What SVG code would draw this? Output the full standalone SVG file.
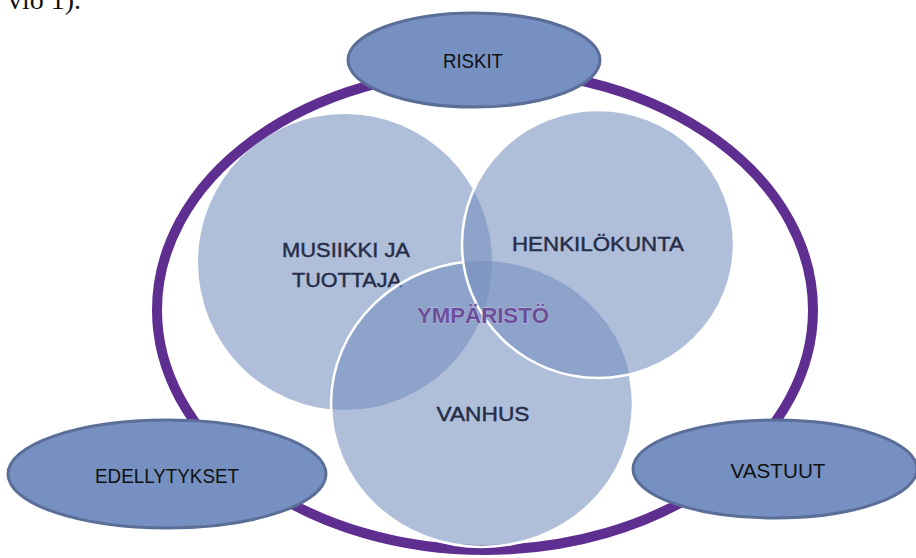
<svg xmlns="http://www.w3.org/2000/svg" width="916" height="558" viewBox="0 0 916 558">
  <style>
    .set { fill: #758fbd; fill-opacity: 0.58; stroke: none; }
    .edge { fill: none; stroke: #ffffff; stroke-width: 2.5; }
    .lbl { font-family: "Liberation Sans", Arial, sans-serif; font-size: 21px; fill: #252d48; stroke: #252d48; stroke-width: 0.45; text-anchor: middle; }
    .sat { fill: #7590c1; stroke: #5a6e98; stroke-width: 3; }
    .satlbl { font-family: "Liberation Sans", Arial, sans-serif; font-size: 21px; fill: #111111; text-anchor: middle; }
    .env { font-family: "Liberation Sans", Arial, sans-serif; font-size: 22px; font-weight: bold; fill: #6a4f9c; stroke: #c9bfe0; stroke-width: 0.8; paint-order: stroke; text-anchor: middle; }
  </style>
  <defs>
    <mask id="outsideRight" maskUnits="userSpaceOnUse" x="0" y="0" width="916" height="558">
      <rect x="0" y="0" width="916" height="558" fill="#ffffff"/>
      <ellipse cx="598" cy="244" rx="136" ry="134" fill="#000000"/>
    </mask>
  </defs>
  <rect x="0" y="0" width="916" height="558" fill="#ffffff"/>

  <text x="8" y="9" font-family="'Liberation Serif', 'Times New Roman', serif" font-size="28" fill="#111111">vio 1).</text>

  <g id="connectors">
    <ellipse id="ring" cx="485" cy="310" rx="328" ry="240" fill="none" stroke="#5f2e91" stroke-width="10"/>
  </g>

  <g id="musiikki">
    <ellipse class="set" cx="345" cy="262" rx="147" ry="148"/>
    <text class="lbl" x="346" y="257" textLength="128" lengthAdjust="spacingAndGlyphs">MUSIIKKI JA</text>
    <text class="lbl" x="347" y="287" textLength="110" lengthAdjust="spacingAndGlyphs">TUOTTAJA</text>
  </g>

  <g id="vanhus">
    <ellipse class="set" cx="482" cy="404" rx="151" ry="143"/>
    <ellipse class="edge" cx="482" cy="404" rx="151" ry="143" mask="url(#outsideRight)"/>
    <text class="lbl" x="483" y="421" textLength="93" lengthAdjust="spacingAndGlyphs">VANHUS</text>
  </g>

  <g id="henkilokunta">
    <ellipse class="set" cx="598" cy="244" rx="136" ry="134"/>
    <ellipse class="edge" cx="598" cy="244" rx="136" ry="134"/>
    <text class="lbl" x="598" y="251" textLength="172" lengthAdjust="spacingAndGlyphs">HENKILÖKUNTA</text>
  </g>

  <g id="ymparisto">
    <text class="env" x="483" y="323" textLength="132" lengthAdjust="spacingAndGlyphs">YMPÄRISTÖ</text>
  </g>

  <g id="riskit">
    <ellipse class="sat" cx="474" cy="60" rx="126" ry="47"/>
    <text class="satlbl" x="473" y="68" textLength="60" lengthAdjust="spacingAndGlyphs">RISKIT</text>
  </g>

  <g id="edellytykset">
    <ellipse class="sat" cx="167" cy="474" rx="159" ry="54"/>
    <text class="satlbl" x="167" y="483" textLength="144" lengthAdjust="spacingAndGlyphs">EDELLYTYKSET</text>
  </g>

  <g id="vastuut">
    <ellipse class="sat" cx="775" cy="469" rx="142" ry="49"/>
    <text class="satlbl" x="778" y="478" textLength="95" lengthAdjust="spacingAndGlyphs">VASTUUT</text>
  </g>
</svg>
